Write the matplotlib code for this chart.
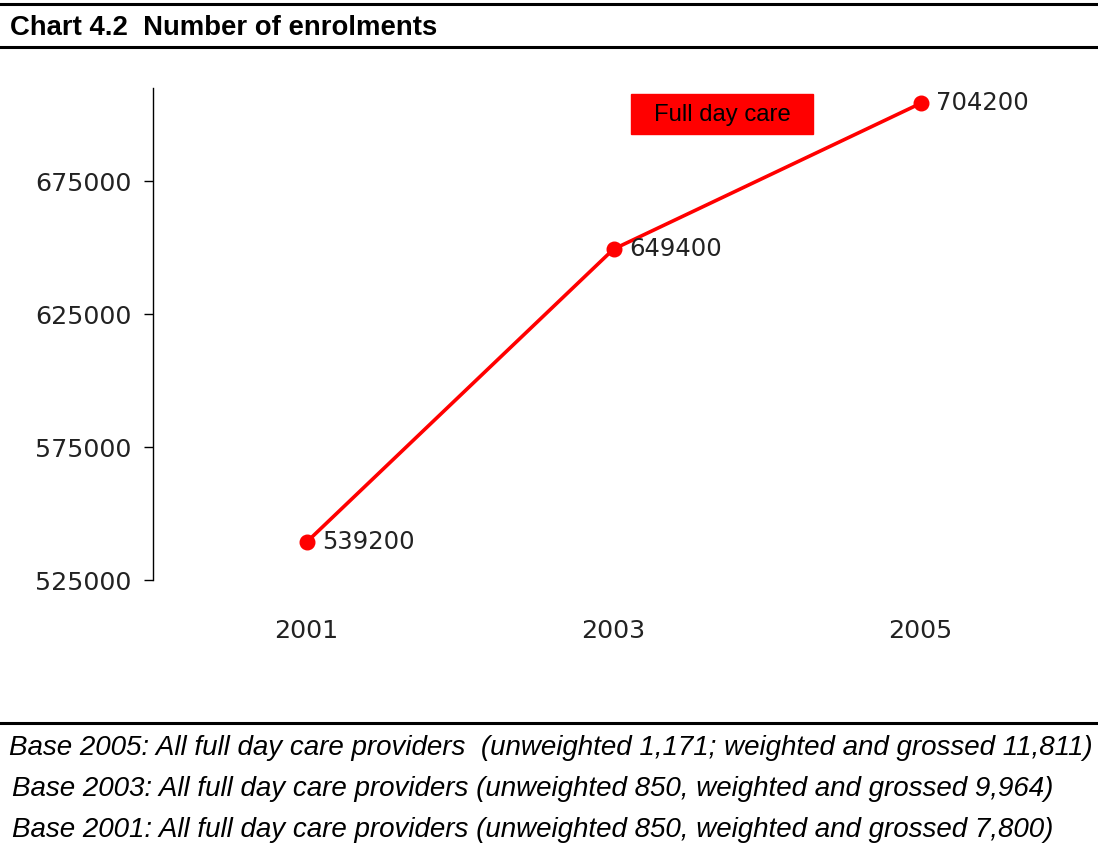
import matplotlib.pyplot as plt
from matplotlib.lines import Line2D
from matplotlib.patches import Rectangle

years = ["2001", "2003", "2005"]
enrolments = [539200, 649400, 704200]
yticks = [525000, 575000, 625000, 675000]
series_name = "Full day care"
base_notes = [
    "Base 2005: All full day care providers  (unweighted 1,171; weighted and grossed 11,811)",
    "Base 2003: All full day care providers (unweighted 850, weighted and grossed 9,964)",
    "Base 2001: All full day care providers (unweighted 850, weighted and grossed 7,800)",
]

W, H = 1098, 844
fig = plt.figure(figsize=(W / 100, H / 100), dpi=100)

# rules above/below the title and above the notes
for y in (4, 47, 723):
    fig.add_artist(Line2D([0, 1], [1 - y / H, 1 - y / H], color="black", lw=2.2))

fig.text(10 / W, 1 - 28 / H, "Chart 4.2  Number of enrolments", family="Liberation Sans",
         weight="bold", fontsize=19.8, va="center", ha="left")

note_x = [9, 12, 12]
note_y = [748, 789, 830]
for txt, x, y in zip(base_notes, note_x, note_y):
    fig.text(x / W, 1 - y / H, txt, family="Liberation Sans", style="italic",
             fontsize=19.95, va="center", ha="left")

ax = fig.add_axes([153 / W, 1 - 580 / H, 921 / W, 492 / H])
xs = list(range(len(years)))
ax.plot(xs, enrolments, color="#ff0000", lw=2.6, marker="o", ms=10.5, zorder=3)
for x, v in zip(xs, enrolments):
    ax.annotate(str(v), (x, v), xytext=(11, 0), textcoords="offset points",
                va="center", ha="left", fontsize=17.5, color="#222222")

ax.set_xlim(-0.5, 2.5)
ax.set_ylim(525000, 710000)
ax.set_xticks(xs)
ax.set_xticklabels(years)
ax.set_yticks(yticks)
ax.set_yticklabels([str(t) for t in yticks])
ax.tick_params(axis="y", direction="out", length=6.5, width=1, pad=9,
               labelsize=18.3, labelcolor="#222222")
ax.tick_params(axis="x", length=0, pad=28, labelsize=18.3, labelcolor="#222222")
for s in ("top", "right", "bottom"):
    ax.spines[s].set_visible(False)
ax.spines["left"].set_linewidth(1)

# series label box
fig.add_artist(Rectangle((631 / W, 1 - 134 / H), 182 / W, 40 / H,
                         transform=fig.transFigure, color="#ff0000"))
fig.text(722 / W, 1 - 115 / H, series_name, family="Liberation Sans", fontsize=17.2,
         ha="center", va="center")

fig.savefig("out.png", dpi=100)
